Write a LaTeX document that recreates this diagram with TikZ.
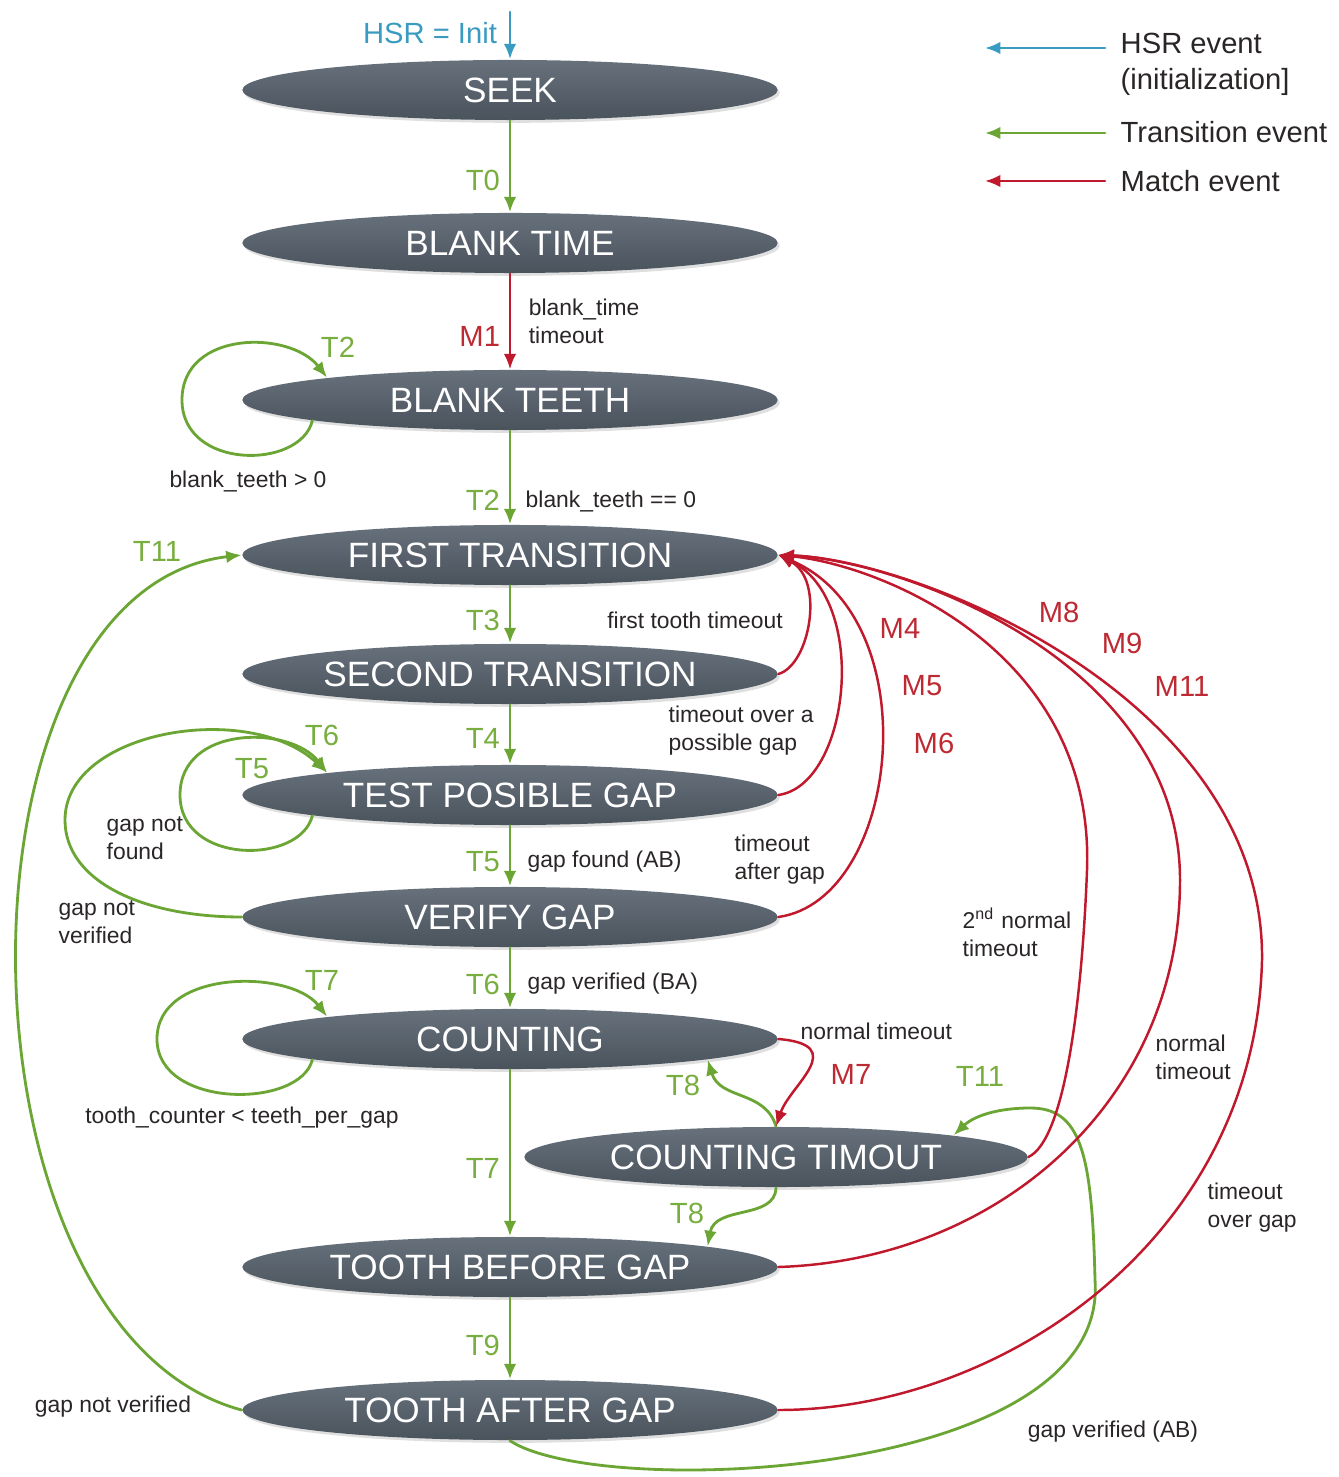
\documentclass[tikz,border=0pt]{standalone}
\usepackage{fontspec}
\setmainfont{Liberation Sans}
\usetikzlibrary{arrows.meta,shapes.geometric,shadows}
\definecolor{statetop}{HTML}{67717C}
\definecolor{statebot}{HTML}{4A535C}
\definecolor{transgreen}{HTML}{6BA534}
\definecolor{matchred}{HTML}{C0182C}
\definecolor{hsrblue}{HTML}{3A9BC1}
\definecolor{labgreen}{HTML}{78AE3F}
\definecolor{labred}{HTML}{BE2A33}
\definecolor{notegray}{HTML}{2A2626}
\tikzset{
  state/.style={ellipse, minimum width=5.35cm, minimum height=0.6cm, inner sep=0pt,
    top color=statetop, bottom color=statebot, text=white,
    font=\fontsize{10}{12}\selectfont,
    drop shadow={opacity=0.25, shadow xshift=0.6pt, shadow yshift=-0.8pt}},
  trans/.style={draw=transgreen, line width=0.8pt, -{Latex[length=4.4pt,width=3.6pt]}},
  match/.style={draw=matchred, line width=0.7pt, -{Latex[length=4.4pt,width=3.6pt]}},
  hsr/.style={draw=hsrblue, line width=0.8pt, -{Latex[length=4.4pt,width=3.6pt]}},
  tlab/.style={text=labgreen, font=\fontsize{8.3}{10}\selectfont, inner sep=2.5pt},
  mlab/.style={text=labred, font=\fontsize{8.3}{10}\selectfont, inner sep=2.5pt},
  note/.style={text=notegray, font=\fontsize{6.5}{8}\selectfont, align=left, inner sep=0pt},
  legtxt/.style={text=notegray, font=\fontsize{8.3}{10.2}\selectfont, align=left, inner sep=0pt, anchor=west},
}
\begin{document}
\begin{tikzpicture}[x=0.01cm, y=-0.01cm, line cap=round]
\useasboundingbox (0,0) rectangle (1338,1477);
% states
\foreach \n/\y/\t in {seek/90/SEEK, bt/243/BLANK TIME, bte/400/BLANK TEETH, ft/555/FIRST TRANSITION,
  st/674/SECOND TRANSITION, tpg/795/TEST POSIBLE GAP, vg/917/VERIFY GAP, cnt/1039/COUNTING,
  tbg/1267/TOOTH BEFORE GAP, tag/1410/TOOTH AFTER GAP}
  \node[state] (\n) at (510,\y) {\t};
\node[state, minimum width=5.03cm] (ct) at (776,1157) {COUNTING TIMOUT};

% init
\coordinate (init) at (510,12);
\draw[hsr] (init) -- (seek.north);
\node[text=hsrblue, font=\fontsize{8.3}{10}\selectfont] (hsrlab) at (430,33) {HSR = Init};

% straight transitions
\foreach \a/\b/\l/\p in {seek/bt/T0/0.65, bte/ft/T2/0.74, ft/st/T3/0.6, st/tpg/T4/0.57,
  tpg/vg/T5/0.6, vg/cnt/T6/0.6, cnt/tbg/T7/0.59, tbg/tag/T9/0.59}
  \draw[trans] (\a) -- node[tlab, left, pos=\p] {\l} (\b);
\draw[match] (bt) -- node[mlab, left, pos=0.66] {M1}
  node[note, anchor=west, pos=0.5, xshift=5pt] {blank\_time\\timeout} (bte);

% self loops
\draw[trans] (bte.186.5) .. controls (300,470) and (182,470) .. (182,400)
  .. controls (182,330) and (290,330) .. (bte.173.5);
\draw[trans] (tpg.186.5) .. controls (300,865) and (180,865) .. (180,795)
  .. controls (180,725) and (290,725) .. (tpg.173.5);
\draw[trans] (cnt.186.5) .. controls (300,1109) and (157,1109) .. (157,1039)
  .. controls (157,969) and (290,969) .. (cnt.173.5);
\draw[trans] (vg.west) .. controls (140,917) and (65,880) .. (65,820)
  .. controls (65,730) and (250,700) .. (tpg.173.5);

% back to first transition / counting timout
\draw[trans] (tag.west) .. controls (-55,1330) and (-60,590) .. (ft.west);
\draw[trans] (tag.south) .. controls (600,1500) and (1110,1480) .. (1095,1280)
  .. controls (1092,1150) and (1080,1108) .. (1030,1108)
  .. controls (1000,1108) and (975,1115) .. (ct.7);
\draw[trans] (ct.north) .. controls (765,1090) and (720,1100) .. (cnt.354);
\draw[trans] (ct.south) .. controls (775,1220) and (715,1205) .. (tbg.6);
\draw[match] (cnt.east) .. controls (850,1045) and (790,1085) .. (ct.north);

% match events
\draw[match] (st.east) .. controls (810,665) and (825,580) .. (ft.east);
\draw[match] (tpg.east) .. controls (850,785) and (870,600) .. (ft.east);
\draw[match] (vg.east) .. controls (900,900) and (930,620) .. (ft.east);
\draw[match] (ct.east) .. controls (1065,1140) and (1082,1000) .. (1087,870)
  .. controls (1095,650) and (880,565) .. (ft.east);
\draw[match] (tbg.east) .. controls (1000,1260) and (1180,1100) .. (1180,880)
  .. controls (1180,660) and (900,560) .. (ft.east);
\draw[match] (tag.east) .. controls (1000,1410) and (1255,1240) .. (1262,960)
  .. controls (1265,700) and (920,560) .. (ft.east);

% labels
\foreach \x/\y/\t/\n in {338/347/T2/a, 157/551/T11/a, 322/735/T6/a, 252/769/T5/a,
  322/980/T7/a, 683/1085/T8/a, 980/1076/T11/b, 687/1213/T8/b}
  \node[tlab] (l\t\n) at (\x,\y) {\t};
\foreach \x/\y/\t in {900/628/M4, 922/686/M5, 934/743/M6, 1059/612/M8, 1122/643/M9,
  1182/686/M11, 851/1074/M7}
  \node[mlab] (l\t) at (\x,\y) {\t};

\node[note] (nbtg) at (248,481) {blank\_teeth > 0};
\node[note, anchor=west] (nbtz) at (525,501) {blank\_teeth == 0};
\node[note] (nfirst) at (695,620) {first tooth timeout};
\node[note, anchor=west] (novera) at (668,731) {timeout over a\\possible gap};
\node[note, anchor=west] (nfound) at (106,838) {gap not\\found};
\node[note, anchor=west] (nab) at (527,862) {gap found (AB)};
\node[note, anchor=west] (nafter) at (734,860) {timeout\\after gap};
\node[note, anchor=west] (nnotv) at (58,922) {gap not\\verified};
\node[note, anchor=west] (nsecond) at (962,932) {2\textsuperscript{nd} normal\\timeout};
\node[note, anchor=west] (nba) at (527,984) {gap verified (BA)};
\node[note, anchor=west] (nnorm) at (800,1031) {normal timeout};
\node[note, anchor=west] (nnorm2) at (1155,1057) {normal\\timeout};
\node[note] (ncount) at (242,1118) {tooth\_counter < teeth\_per\_gap};
\node[note, anchor=west] (nover) at (1207,1208) {timeout\\over gap};
\node[note] (nnotv2) at (113,1407) {gap not verified};
\node[note] (nvab) at (1113,1432) {gap verified (AB)};

% legend
\foreach \y/\c/\n in {48/hsr/a, 133/trans/b, 181/match/c} {
  \coordinate (lg\n s) at (1105,\y);
  \coordinate (lg\n e) at (985,\y);
  \draw[\c] (lg\n s) -- (lg\n e);
}
\node[legtxt] (lghsr) at (1120,64) {HSR event\\(initialization]};
\node[legtxt] (lgtrans) at (1120,132) {Transition event};
\node[legtxt] (lgmatch) at (1120,181) {Match event};
\end{tikzpicture}
\end{document}
